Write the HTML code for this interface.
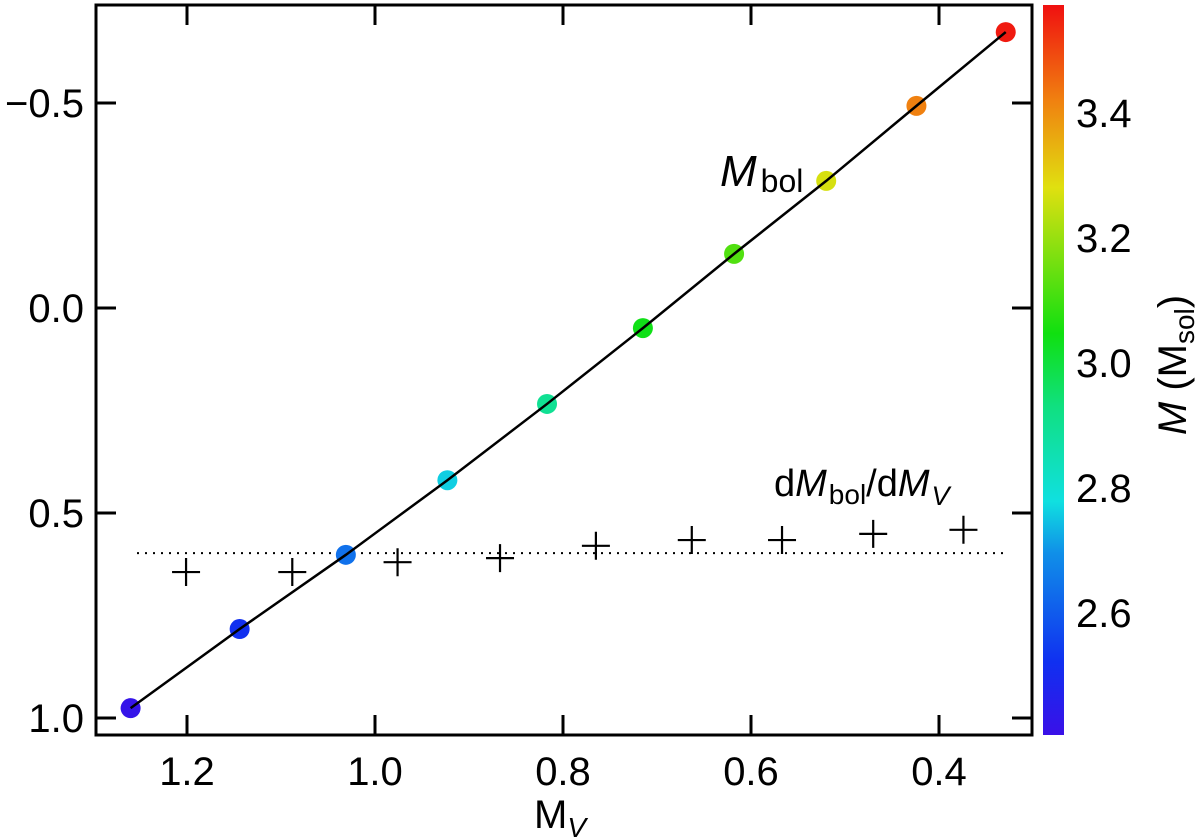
<!DOCTYPE html>
<html><head><meta charset="utf-8"><style>
body{margin:0;background:#fff;}
svg{display:block;font-family:"Liberation Sans",sans-serif;}
</style></head><body>
<svg id="chart" width="1200" height="838" viewBox="0 0 1200 838">
<defs>
<linearGradient id="jet" x1="0" y1="1" x2="0" y2="0">
<stop offset="0" stop-color="#3a10e8"/>
<stop offset="0.1" stop-color="#1030f0"/>
<stop offset="0.25" stop-color="#1090e8"/>
<stop offset="0.32" stop-color="#10e0e0"/>
<stop offset="0.45" stop-color="#10e080"/>
<stop offset="0.55" stop-color="#10e010"/>
<stop offset="0.75" stop-color="#e0e010"/>
<stop offset="0.87" stop-color="#f08010"/>
<stop offset="1" stop-color="#f01010"/>
</linearGradient>
</defs>
<g id="g"></g>
</svg>
<script>
const mvValues=[1.26,1.144,1.031,0.923,0.817,0.715,0.618,0.520,0.424,0.329];
const mbolValues=[0.976,0.783,0.602,0.420,0.234,0.049,-0.132,-0.310,-0.493,-0.673];
const massValues=[2.42,2.52,2.64,2.76,2.90,3.04,3.12,3.27,3.42,3.56];
const derivMv=[1.201,1.088,0.976,0.867,0.765,0.663,0.567,0.470,0.374];
const derivValues=[0.644,0.644,0.620,0.610,0.580,0.566,0.566,0.551,0.541];
const dottedLevel=0.598;
const xTicks=[1.2,1.0,0.8,0.6,0.4];
const xTickLabels=["1.2","1.0","0.8","0.6","0.4"];
const yTicks=[-0.5,0.0,0.5,1.0];
const yTickLabels=["\u22120.5","0.0","0.5","1.0"];
const cbTicks=[2.6,2.8,3.0,3.2,3.4];
const cbTickLabels=["2.6","2.8","3.0","3.2","3.4"];

const L=96,R=1032,T=5,B=735;
const X=v=>375+(1.0-v)*940;
const Y=v=>308+v*410;
const CB=m=>613-(m-2.6)*625;
const NS="http://www.w3.org/2000/svg";
const g=document.getElementById('g');
function mk(tag,attrs,name,text){const e=document.createElementNS(NS,tag);for(const k in attrs)e.setAttribute(k,attrs[k]);


if(text!==undefined)e.textContent=text;g.appendChild(e);return e;}
function jet(m){const t=Math.max(0,Math.min(1,(m-2.405)/(3.573-2.405)));
const stops=[[0,[58,16,232]],[0.1,[16,48,240]],[0.25,[16,144,232]],[0.32,[16,224,224]],[0.45,[16,224,128]],[0.55,[16,224,16]],[0.75,[224,224,16]],[0.87,[240,128,16]],[1,[240,16,16]]];
for(let i=1;i<stops.length;i++){if(t<=stops[i][0]){const a=stops[i-1],b=stops[i],f=(t-a[0])/(b[0]-a[0]);
return 'rgb('+a[1].map((c,j)=>Math.round(c+(b[1][j]-c)*f)).join(',')+')';}}return 'rgb(240,16,16)';}

mk('line',{x1:137,x2:1006,y1:Y(dottedLevel),y2:Y(dottedLevel),stroke:'#000','stroke-width':2,'stroke-dasharray':'2,6'},'reference-dotted-line');
derivMv.forEach((v,i)=>{const x=X(v),y=Y(derivValues[i]);
mk('path',{d:`M${x-14},${y}H${x+14}M${x},${y-14}V${y+14}`,stroke:'#000','stroke-width':2.2,fill:'none'},'derivative-marker');});
mvValues.forEach((v,i)=>{mk('circle',{cx:X(v),cy:Y(mbolValues[i]),r:10,fill:jet(massValues[i])},'mbol-point');});
mk('polyline',{points:mvValues.map((v,i)=>X(v)+','+Y(mbolValues[i])).join(' '),fill:'none',stroke:'#000','stroke-width':2.5},'mbol-line');
mk('rect',{x:L,y:T,width:R-L,height:B-T,fill:'none',stroke:'#000','stroke-width':3},'plot-frame');
xTicks.forEach((v,i)=>{const x=X(v);
mk('path',{d:`M${x},${B}V${B-20}M${x},${T}V${T+20}`,stroke:'#000','stroke-width':3},'x-tick');
mk('text',{x:x,y:785,'font-size':40,'text-anchor':'middle'},'x-tick-label',xTickLabels[i]);});
yTicks.forEach((v,i)=>{const y=Y(v);
mk('path',{d:`M${L},${y}H${L+20}M${R},${y}H${R-20}`,stroke:'#000','stroke-width':3},'y-tick');
mk('text',{x:84,y:y+14,'font-size':40,'text-anchor':'end'},'y-tick-label',yTickLabels[i]);});
const xt=mk('text',{x:560,y:828,'font-size':40,'text-anchor':'middle'},'x-axis-title');
xt.innerHTML='M<tspan font-size="28" font-style="italic" dy="9">V</tspan>';
const a1=mk('text',{x:720,y:186,'font-size':44},'mbol-label');
a1.innerHTML='<tspan font-style="italic">M</tspan><tspan font-size="32" dx="4" dy="6">bol</tspan>';
const a2=mk('text',{x:774,y:496,'font-size':38},'derivative-label');
a2.innerHTML='d<tspan font-style="italic">M</tspan><tspan font-size="28" dx="2" dy="8">bol</tspan><tspan dy="-8">/d</tspan><tspan font-style="italic">M</tspan><tspan font-size="27" font-style="italic" dx="2" dy="9">V</tspan>';
mk('rect',{x:1043,y:5,width:21,height:730,fill:'url(#jet)'},'colorbar');
cbTicks.forEach((m,i)=>{mk('text',{x:1076,y:CB(m)+14,'font-size':40},'colorbar-tick-label',cbTickLabels[i]);});
const ct=mk('text',{x:0,y:0,'font-size':40,'text-anchor':'middle',transform:'translate(1186,365) rotate(-90)'},'colorbar-title');
ct.innerHTML='<tspan font-style="italic">M</tspan> (M<tspan font-size="28" dy="8">sol</tspan><tspan dy="-8">)</tspan>';
</script>
</body></html>
